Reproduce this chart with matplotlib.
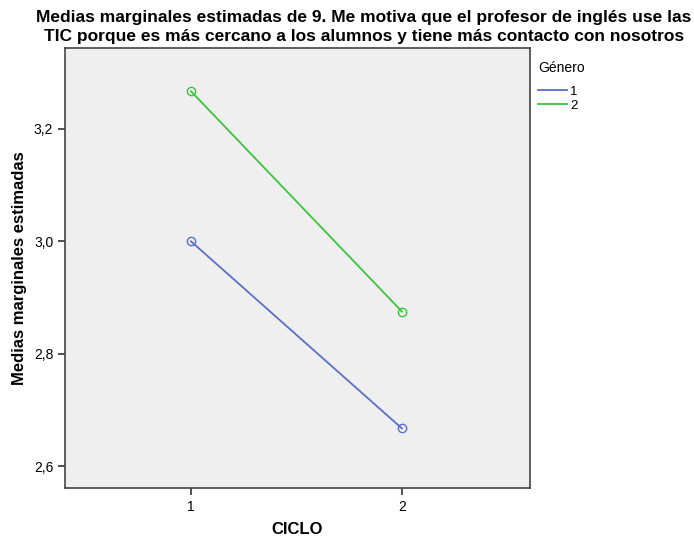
import numpy as np
import matplotlib.pyplot as plt

ciclo = [1, 2]
grupos = ['1', '2']
medias = {
    '1': [3.000, 2.667],
    '2': [3.267, 2.875],
}
colores = {'1': '#5b6fc8', '2': '#3cc43c'}
yticks = [2.6, 2.8, 3.0, 3.2]
ylabels = ['2,6', '2,8', '3,0', '3,2']

plt.rcParams['font.family'] = ['Liberation Sans', 'DejaVu Sans']

fig = plt.figure(figsize=(6.94, 5.38), dpi=100)
ax = fig.add_axes([65/694, 1 - 488/538, 465/694, 440/538])
ax.set_facecolor('#efefef')

for g in grupos:
    ax.plot(ciclo, medias[g], color=colores[g], lw=1.3, marker='o', ms=6,
            mfc='none', mec=colores[g], mew=1.0, label=g)

ax.set_xlim(0.403, 2.607)
ax.set_ylim(2.561, 3.344)
ax.set_xticks(ciclo)
ax.set_xticklabels(['1', '2'])
ax.set_yticks(yticks)
ax.set_yticklabels(ylabels)
ax.tick_params(labelsize=10, length=5, width=1.2, colors='#333333', labelcolor='black')
for s in ax.spines.values():
    s.set_color('#444444')
    s.set_linewidth(1.2)

ax.set_xlabel('CICLO', fontsize=12, fontweight='bold')
ax.xaxis.set_label_coords(0.5, -0.078)
ax.set_ylabel('Medias marginales estimadas', fontsize=12, fontweight='bold')
ax.yaxis.set_label_coords(-0.082, 0.5)
fig.text(364/694, 1 - 27/538,
         'Medias marginales estimadas de 9. Me motiva que el profesor de inglés use las\n'
         'TIC porque es más cercano a los alumnos y tiene más contacto con nosotros',
         ha='center', va='center', fontsize=12.5, fontweight='bold', linespacing=1.3)

leg = ax.legend(title='Género', loc='upper left', bbox_to_anchor=(0.995, 0.995),
                frameon=False, fontsize=9.5, title_fontsize=10, handlelength=2.2,
                handletextpad=0.2, labelspacing=0.1, borderpad=0.3)
leg._legend_box.align = 'left'
leg._legend_box.sep = 8
for h in leg.legend_handles:
    h.set_marker('')

fig.savefig('out.png', dpi=100)
